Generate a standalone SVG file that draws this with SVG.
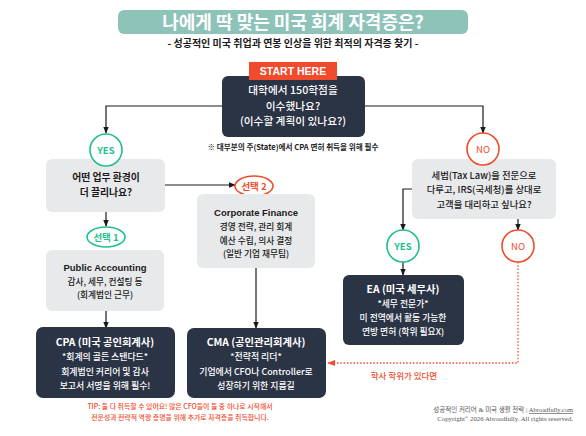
<svg xmlns="http://www.w3.org/2000/svg" width="586" height="436" viewBox="0 0 586 436">
<style>
text{font-family:"Noto Sans CJK KR","Noto Sans",sans-serif;text-anchor:middle}
.dark{fill:#2b3445}
.gray{fill:#e8e9eb}
.wt{fill:#ffffff}
.m{font-weight:500}
.bk{fill:#1a1a1a}
.b{font-weight:700}
.line{fill:none;stroke:#1a1a1a;stroke-width:1.2}
.dot{fill:none;stroke:#f04b2c;stroke-width:1.3;stroke-dasharray:1.5 1.8}
.gc{fill:#fff;stroke:#1fbf8f;stroke-width:1.6}
.rc{fill:#fff;stroke:#f04b2c;stroke-width:1.6}
.gt{fill:#1fbf8f;font-weight:700;font-size:9.5px}
.rt{fill:#f04b2c;font-size:9.5px}
.lat{font-family:"Liberation Sans",Arial,"Noto Sans CJK KR",sans-serif}
</style>
<defs>
<marker id="ah" viewBox="0 0 10 10" refX="9" refY="5" markerWidth="6" markerHeight="6" orient="auto"><path d="M0,1 L10,5 L0,9 z" fill="#1a1a1a"/></marker>
<marker id="ahr" viewBox="0 0 10 10" refX="9" refY="5" markerWidth="6" markerHeight="6" orient="auto"><path d="M0,1 L10,5 L0,9 z" fill="#f04b2c"/></marker>
</defs>
<rect width="586" height="436" fill="#ffffff"/>

<g id="title">
<rect x="118" y="10" width="350" height="24" rx="6" fill="#8dc3b9"/>
<text x="293" y="29" class="wt b" font-size="18">나에게 딱 맞는 미국 회계 자격증은?</text>
<text x="293" y="47" class="bk b" font-size="10">- 성공적인 미국 취업과 연봉 인상을 위한 최적의 자격증 찾기 -</text>
</g>

<g id="connectors">
<polyline class="line" points="222,106 106,106 106,133" marker-end="url(#ah)"/>
<polyline class="line" points="365,106 483,106 483,133" marker-end="url(#ah)"/>
<line class="line" x1="106" y1="212" x2="106" y2="226" marker-end="url(#ah)"/>
<polyline class="line" points="165,185 235,185" marker-end="url(#ah)"/>
<line class="line" x1="106" y1="311" x2="106" y2="328" marker-end="url(#ah)"/>
<line class="line" x1="256" y1="268" x2="256" y2="328" marker-end="url(#ah)"/>
<polyline class="line" points="412,189 403,189 403,230" marker-end="url(#ah)"/>
<line class="line" x1="518" y1="219" x2="518" y2="230" marker-end="url(#ah)"/>
<line class="line" x1="403" y1="262" x2="403" y2="275" marker-end="url(#ah)"/>
<polyline class="dot" points="518,262 518,363 328,363" marker-end="url(#ahr)"/>
<text x="404" y="379" fill="#f04b2c" font-size="8.5" font-weight="500">학사 학위가 있다면</text>
</g>

<g id="start">
<rect x="222" y="76" width="143" height="61" rx="6" class="dark"/>
<rect x="249" y="62" width="88" height="18" fill="#f04b2c"/>
<text x="293" y="75" class="wt b lat" font-size="10.5">START HERE</text>
<text x="293" y="94" class="wt m" font-size="10.7">대학에서 150학점을</text>
<text x="293" y="110" class="wt m" font-size="10.7">이수했나요?</text>
<text x="293" y="125" class="wt m" font-size="10.7">(이수할 계획이 있나요?)</text>
</g>

<g id="note">
<text x="293" y="150" class="bk b" font-size="7.6">※ 대부분의 주(State)에서 CPA 면허 취득을 위해 필수</text>
</g>

<g id="q-env">
<rect x="46" y="159" width="119" height="53" rx="6" class="gray"/>
<text x="106" y="181" class="bk b" font-size="9.8">어떤 업무 환경이</text>
<text x="106" y="196" class="bk b" font-size="9.8">더 끌리나요?</text>
</g>

<g id="yes1">
<circle cx="106" cy="150" r="16" class="gc"/>
<text x="106" y="153.5" class="gt">YES</text>
</g>

<g id="q-tax">
<rect x="412" y="159" width="144" height="60" rx="6" class="gray"/>
<text x="484" y="179" class="bk m" font-size="9.4">세법(Tax Law)을 전문으로</text>
<text x="484" y="193" class="bk m" font-size="9.4">다루고, IRS(국세청)를 상대로</text>
<text x="484" y="208" class="bk m" font-size="9.4">고객을 대리하고 싶나요?</text>
</g>

<g id="no1">
<circle cx="483" cy="149" r="16" class="rc"/>
<text x="483" y="152.5" class="rt">NO</text>
</g>

<g id="choice1">
<ellipse cx="106" cy="237" rx="19" ry="10" class="gc"/>
<text x="106" y="240.5" class="gt" font-size="8.5">선택 1</text>
</g>

<g id="public">
<rect x="46" y="250" width="118" height="61" rx="6" class="gray"/>
<text x="105" y="271" class="bk b lat" font-size="9.5">Public Accounting</text>
<text x="105" y="285" class="bk m" font-size="8.7">감사, 세무, 컨설팅 등</text>
<text x="105" y="298" class="bk m" font-size="8.7">(회계법인 근무)</text>
</g>

<g id="choice2">
<ellipse cx="254" cy="186" rx="19" ry="10" class="rc"/>
<text x="254" y="189.5" class="rt b" font-size="8.5">선택 2</text>
</g>

<g id="corporate">
<rect x="197" y="194" width="118" height="74" rx="6" class="gray"/>
<text x="256" y="216" class="bk b lat" font-size="9.5">Corporate Finance</text>
<text x="256" y="230" class="bk m" font-size="8.7">경영 전략, 관리 회계</text>
<text x="256" y="244" class="bk m" font-size="8.7">예산 수립, 의사 결정</text>
<text x="256" y="257" class="bk m" font-size="8.7">(일반 기업 재무팀)</text>
</g>

<g id="yes2">
<circle cx="403" cy="246" r="16" class="gc"/>
<text x="403" y="249.5" class="gt">YES</text>
</g>

<g id="no2">
<circle cx="518" cy="246" r="16" class="rc"/>
<text x="518" y="249.5" class="rt">NO</text>
</g>

<g id="ea">
<rect x="343" y="275" width="121" height="70" rx="6" class="dark"/>
<text x="403" y="293" class="wt b" font-size="10.3">EA (미국 세무사)</text>
<text x="403" y="307" class="wt m" font-size="8.8">*세무 전문가*</text>
<text x="403" y="321" class="wt m" font-size="8.8">미 전역에서 활동 가능한</text>
<text x="403" y="335" class="wt m" font-size="8.8">연방 면허 (학위 필요X)</text>
</g>

<g id="cpa">
<rect x="36" y="327" width="139" height="71" rx="7" class="dark"/>
<text x="105" y="346" class="wt b" font-size="10.3">CPA (미국 공인회계사)</text>
<text x="105" y="360" class="wt m" font-size="8.9">*회계의 골든 스탠다드*</text>
<text x="105" y="375" class="wt m" font-size="8.9">회계법인 커리어 및 감사</text>
<text x="105" y="389" class="wt m" font-size="8.9">보고서 서명을 위해 필수!</text>
</g>

<g id="cma">
<rect x="187" y="328" width="139" height="70" rx="7" class="dark"/>
<text x="256" y="346" class="wt b" font-size="10.3">CMA (공인관리회계사)</text>
<text x="256" y="360" class="wt m" font-size="8.9">*전략적 리더*</text>
<text x="256" y="375" class="wt m" font-size="8.9">기업에서 CFO나 Controller로</text>
<text x="256" y="389" class="wt m" font-size="8.9">성장하기 위한 지름길</text>
</g>

<g id="tip">
<text x="180" y="409" fill="#f04b2c" font-size="6.9" font-weight="500">TIP: 둘 다 취득할 수 있어요! 많은 CFO들이 둘 중 하나로 시작해서</text>
<text x="180" y="420" fill="#f04b2c" font-size="6.9" font-weight="500">전문성과 전략적 역량 증명을 위해 추가로 자격증을 취득합니다.</text>
</g>

<g id="footer">
<text x="573" y="412" fill="#555" font-size="6.5" style="text-anchor:end;font-family:'Liberation Serif','Noto Sans CJK KR',serif">성공적인 커리어 &amp; 미국 생활 전략 | <tspan text-decoration="underline">Abroadfully.com</tspan></text>
<text x="573" y="421" fill="#555" font-size="6.8" style="text-anchor:end;font-family:'Liberation Serif','Noto Sans CJK KR',serif">Copyright<tspan font-size="4.5" dy="-2.5">®</tspan><tspan dy="2.5"> 2026 Abroadfully. All rights reserved.</tspan></text>
</g>
</svg>
